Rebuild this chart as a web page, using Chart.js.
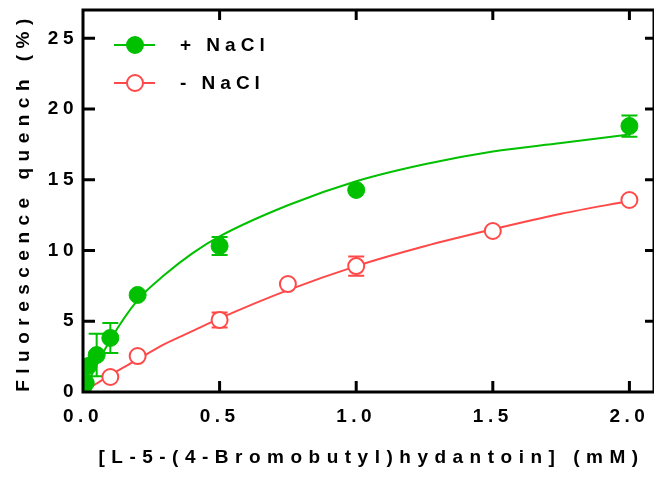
<!DOCTYPE html>
<html>
<head>
<meta charset="utf-8">
<script src="https://cdn.jsdelivr.net/npm/chart.js@4.4.1/dist/chart.umd.min.js"></script>
<style>
  html, body { margin: 0; padding: 0; background: #fff; }
  #wrap { width: 654px; height: 478px; overflow: hidden; position: relative; }
  canvas { display: block; }
</style>
</head>
<body>
<div id="wrap"><canvas id="quenchChart" width="664" height="478"></canvas></div>
<script>
// measured points, + NaCl
const plusX   = [0, 0.01, 0.02, 0.05, 0.1, 0.2, 0.5, 1.0, 2.0];
const plusY   = [0.28, 0.64, 1.84, 2.61, 3.82, 6.86, 10.32, 14.28, 18.8];
const plusErr = [0, 1.0, 0, 1.5, 1.06, 0, 0.63, 0, 0.75];

// measured points, - NaCl
const minusX   = [0.1, 0.2, 0.5, 0.75, 1.0, 1.5, 2.0];
const minusY   = [1.06, 2.54, 5.09, 7.63, 8.9, 11.38, 13.57];
const minusErr = [0, 0, 0.53, 0, 0.68, 0, 0];

// fitted curves
const fitX     = [0, 0.05, 0.1, 0.2, 0.3, 0.4, 0.5, 0.75, 1.0, 1.25, 1.5, 1.75, 2.0];
const plusFit  = [0, 1.9, 3.7, 6.5, 8.3, 9.8, 11.0, 13.2, 14.9, 16.1, 17.0, 17.6, 18.2];
const minusFit = [0, 0.6, 1.2, 2.3, 3.4, 4.3, 5.2, 7.2, 8.9, 10.3, 11.5, 12.6, 13.5];

const xTicks = [0, 0.5, 1.0, 1.5, 2.0];
const yTicks = [0, 5, 10, 15, 20, 25];

const xTitle = '[L-5-(4-Bromobutyl)hydantoin] (mM)';
const yTitle = 'Fluorescence quench (%)';
const seriesNames = ['+ NaCl', '- NaCl'];

const GREEN = '#00c000';
const RED = '#ff4848';
const FONT = "'Liberation Sans', Arial, sans-serif";

const pts = (xs, ys) => xs.map((x, i) => ({ x: x, y: ys[i] }));

// frame, inward ticks, error bars, titles, legend
const prismFrame = {
  id: 'prismFrame',
  beforeDraw(chart) {
    chart.ctx.letterSpacing = '4.5px';
  },
  beforeDatasetsDraw(chart) {
    const ctx = chart.ctx;
    const xs = chart.scales.x, ys = chart.scales.y;
    const a = chart.chartArea;
    ctx.save();
    ctx.beginPath();
    ctx.rect(a.left, a.top, a.right - a.left, a.bottom - a.top);
    ctx.clip();
    ctx.lineWidth = 2;
    const bars = (xv, yv, ev, color) => {
      ctx.strokeStyle = color;
      xv.forEach((x, i) => {
        if (!ev[i]) return;
        const px = xs.getPixelForValue(x);
        const top = ys.getPixelForValue(yv[i] + ev[i]);
        const bot = ys.getPixelForValue(yv[i] - ev[i]);
        ctx.beginPath();
        ctx.moveTo(px, top); ctx.lineTo(px, bot);
        ctx.moveTo(px - 8, top); ctx.lineTo(px + 8, top);
        ctx.moveTo(px - 8, bot); ctx.lineTo(px + 8, bot);
        ctx.stroke();
      });
    };
    bars(minusX, minusY, minusErr, RED);
    bars(plusX, plusY, plusErr, GREEN);
    ctx.restore();
  },
  afterDraw(chart) {
    const ctx = chart.ctx;
    const xs = chart.scales.x, ys = chart.scales.y;
    const a = chart.chartArea;
    const W = chart.width;
    ctx.save();
    ctx.strokeStyle = '#000';
    ctx.lineWidth = 3;
    ctx.beginPath();
    ctx.moveTo(a.left, a.top - 1.5); ctx.lineTo(a.left, a.bottom + 1.5);
    ctx.moveTo(a.left, a.bottom); ctx.lineTo(W, a.bottom);
    ctx.moveTo(a.left, a.top); ctx.lineTo(W, a.top);
    ctx.moveTo(a.right, a.top); ctx.lineTo(a.right, a.bottom);
    xTicks.forEach(v => {
      if (v === 0) return;
      const px = xs.getPixelForValue(v);
      ctx.moveTo(px, a.bottom); ctx.lineTo(px, a.bottom - 11);
      ctx.moveTo(px, a.top); ctx.lineTo(px, a.top + 10);
    });
    yTicks.forEach(v => {
      if (v === 0) return;
      const py = ys.getPixelForValue(v);
      ctx.moveTo(a.left, py); ctx.lineTo(a.left + 12, py);
      ctx.moveTo(a.right, py); ctx.lineTo(a.right - 9, py);
    });
    ctx.stroke();

    // axis titles
    ctx.fillStyle = '#000';
    ctx.font = 'bold 19px ' + FONT;
    ctx.letterSpacing = '6.5px';
    ctx.textAlign = 'center';
    ctx.textBaseline = 'alphabetic';
    ctx.fillText(xTitle, (a.left + a.right) / 2 + 3, 463);
    ctx.save();
    ctx.translate(29, (a.top + a.bottom) / 2 + 1);
    ctx.rotate(-Math.PI / 2);
    ctx.fillText(yTitle, 0, 0);
    ctx.restore();

    // legend
    const rows = [
      { y: 45, color: GREEN, fill: GREEN },
      { y: 83, color: RED, fill: '#fff' }
    ];
    ctx.letterSpacing = '5px';
    ctx.textAlign = 'left';
    ctx.textBaseline = 'middle';
    ctx.font = 'bold 19px ' + FONT;
    rows.forEach((r, i) => {
      ctx.strokeStyle = r.color;
      ctx.lineWidth = 2;
      ctx.beginPath();
      ctx.moveTo(114, r.y); ctx.lineTo(155, r.y);
      ctx.stroke();
      ctx.beginPath();
      ctx.arc(135, r.y, 8, 0, Math.PI * 2);
      ctx.fillStyle = r.fill;
      ctx.fill();
      ctx.stroke();
      ctx.fillStyle = '#000';
      ctx.fillText(seriesNames[i], 180, r.y + 1);
    });
    ctx.restore();
  }
};

const tickFont = { family: FONT, size: 19, weight: 'bold' };

new Chart(document.getElementById('quenchChart'), {
  type: 'scatter',
  data: {
    datasets: [
      {
        label: seriesNames[0],
        data: pts(plusX, plusY),
        backgroundColor: GREEN,
        borderColor: GREEN,
        borderWidth: 1,
        pointRadius: 8.5
      },
      {
        label: seriesNames[1],
        data: pts(minusX, minusY),
        backgroundColor: '#fff',
        borderColor: RED,
        borderWidth: 2,
        pointRadius: 8
      },
      {
        type: 'line',
        data: pts(fitX, plusFit),
        borderColor: GREEN,
        borderWidth: 2,
        pointRadius: 0,
        cubicInterpolationMode: 'monotone',
        fill: false
      },
      {
        type: 'line',
        data: pts(fitX, minusFit),
        borderColor: RED,
        borderWidth: 2,
        pointRadius: 0,
        cubicInterpolationMode: 'monotone',
        fill: false
      }
    ]
  },
  options: {
    responsive: false,
    animation: false,
    devicePixelRatio: 1,
    layout: { padding: { top: 10, right: 8, left: 0, bottom: 0 } },
    plugins: {
      legend: { display: false },
      tooltip: { enabled: false }
    },
    scales: {
      x: {
        type: 'linear',
        min: 0,
        max: 2.09,
        afterFit: s => { s.height = 86; s.paddingLeft = 0; s.paddingRight = 0; },
        afterBuildTicks: s => { s.ticks = xTicks.map(v => ({ value: v })); },
        grid: { display: false, drawTicks: false },
        border: { display: false },
        ticks: {
          color: '#000',
          font: tickFont,
          padding: 13,
          maxRotation: 0,
          callback: v => v.toFixed(1)
        }
      },
      y: {
        min: 0,
        max: 27,
        afterFit: s => { s.width = 83; s.paddingTop = 0; s.paddingBottom = 0; },
        afterBuildTicks: s => { s.ticks = yTicks.map(v => ({ value: v })); },
        grid: { display: false, drawTicks: false },
        border: { display: false },
        ticks: {
          color: '#000',
          font: tickFont,
          padding: 5,
          callback: v => String(v)
        }
      }
    }
  },
  plugins: [prismFrame]
});
</script>
</body>
</html>
